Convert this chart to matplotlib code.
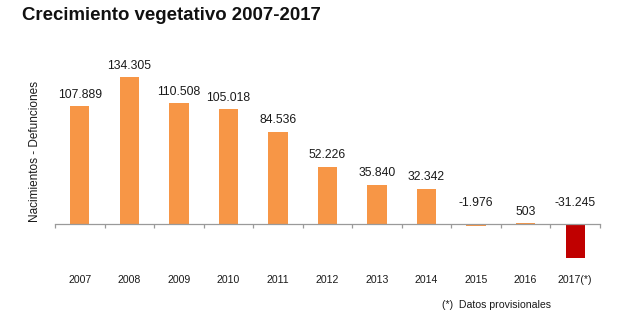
import matplotlib
matplotlib.use("Agg")
import matplotlib.pyplot as plt

plt.rcParams["font.family"] = ["Liberation Sans", "DejaVu Sans"]

years = ["2007", "2008", "2009", "2010", "2011", "2012", "2013", "2014", "2015", "2016", "2017(*)"]
values = [107889, 134305, 110508, 105018, 84536, 52226, 35840, 32342, -1976, 503, -31245]
labels = ["107.889", "134.305", "110.508", "105.018", "84.536", "52.226", "35.840", "32.342",
          "-1.976", "503", "-31.245"]
colors = ["#F79646"] * 10 + ["#C00000"]

W, H = 636, 323
fig = plt.figure(figsize=(W / 100, H / 100), dpi=100)
fig.patch.set_facecolor("white")

# axes placed in pixels: x 55..600, y 60..290 (from top)
ax = fig.add_axes([55 / W, (H - 289.5) / H, 545 / W, 229.3 / H])
x = list(range(len(years)))
ax.bar(x, values, width=0.39, color=colors, zorder=2)
ax.set_xlim(-0.5, len(years) - 0.5)
ax.set_ylim(-60000, 150000)

for xi, v, lab in zip(x, values, labels):
    off = 4 if v > 0 else 11
    ax.annotate(lab, (xi, max(v, 0)), xytext=(0, off), textcoords="offset points",
                ha="center", va="bottom", fontsize=8.7, color="#1a1a1a")

for s in ["top", "right", "left"]:
    ax.spines[s].set_visible(False)
ax.spines["bottom"].set_position(("data", 0))
ax.spines["bottom"].set_color("#9a9a9a")
ax.spines["bottom"].set_linewidth(0.9)
ax.set_yticks([])

ax.set_xticks(x)
ax.set_xticklabels(years, fontsize=7.6, color="#1a1a1a")
ax.tick_params(axis="x", which="major", length=0, pad=37)
ax.set_xticks([i - 0.5 for i in range(len(years) + 1)], minor=True)
ax.tick_params(axis="x", which="minor", length=3, color="#9a9a9a", width=0.9)

fig.text(22 / W, 1 - 15 / H, "Crecimiento vegetativo 2007-2017", fontsize=13.4,
         fontweight="bold", ha="left", va="center", color="#111111")
fig.text(35 / W, 1 - 151 / H, "Nacimientos - Defunciones", rotation=90, fontsize=8.5,
         ha="center", va="center", color="#1a1a1a")
fig.text(442 / W, 1 - 305 / H, "(*)  Datos provisionales", fontsize=7.6,
         ha="left", va="center", color="#1a1a1a")

fig.savefig("out.png", dpi=100, facecolor="white")
